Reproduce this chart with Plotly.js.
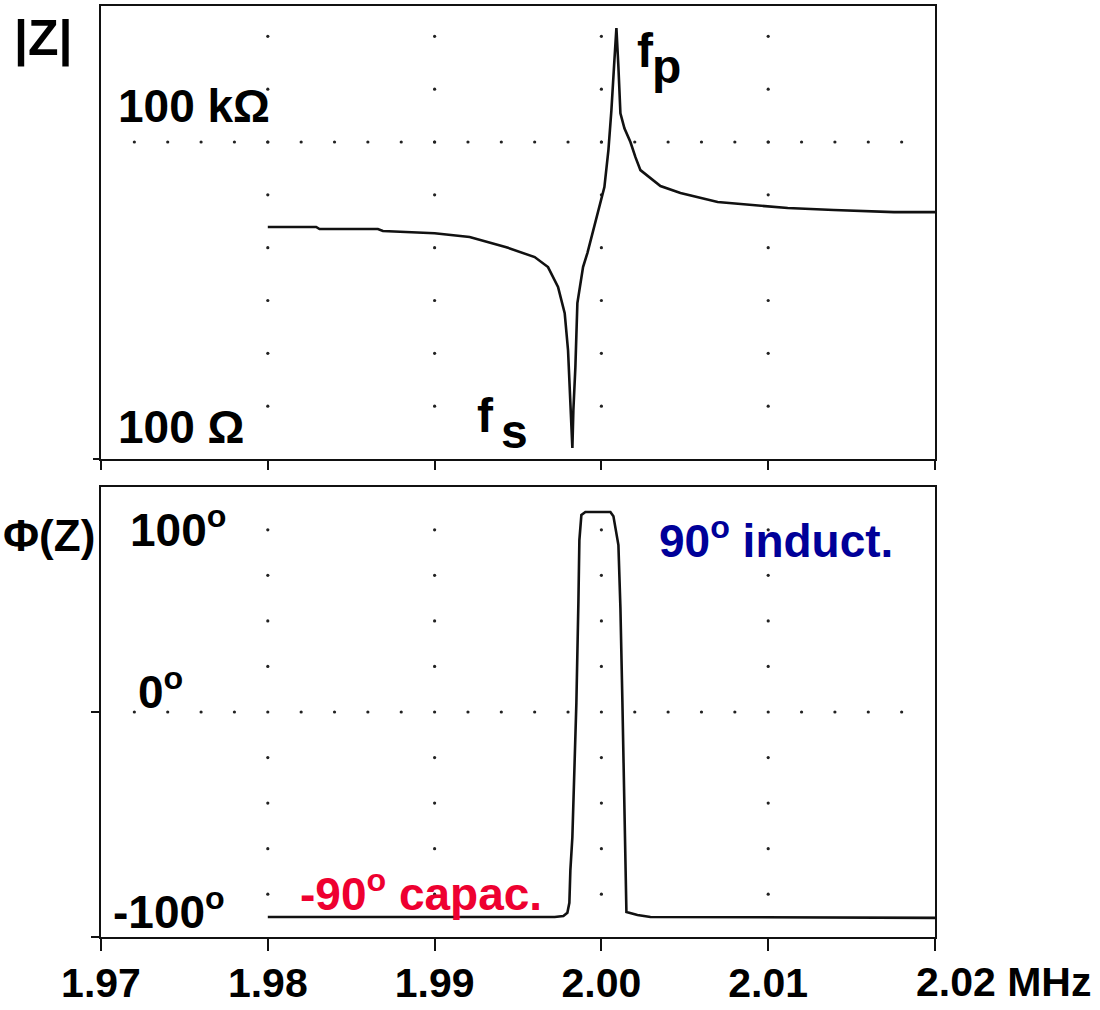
<!DOCTYPE html>
<html>
<head>
<meta charset="utf-8">
<script src="https://cdn.plot.ly/plotly-3.0.1.min.js"></script>
<style>html,body{margin:0;padding:0;background:#fff;}</style>
</head>
<body>
<div id="chart" style="width:1100px;height:1010px;"></div>
<script>
// ---- data ----
const freqZ = [1.9800, 1.9829, 1.9831, 1.9866, 1.9869, 1.9900, 1.9921, 1.9943, 1.9960, 1.9968,
               1.9974, 1.9978, 1.9980, 1.99814, 1.99826, 1.99832, 1.99844, 1.99856, 1.9989, 1.99916,
               1.99976, 2.00018, 2.00042, 2.0006, 2.00078, 2.0009, 2.00102, 2.00114, 2.00138, 2.00174,
               2.00204, 2.00234, 2.00354, 2.00474, 2.00697, 2.00907, 2.01117, 2.01393, 2.01754, 2.0200];
const impedanceOhm = [15700, 15700, 15000, 15000, 14400, 13700, 12600, 10100, 8150, 6550,
                      4240, 2400, 1070, 291, 127, 291, 741, 2990, 6550, 8890,
                      21200, 37400, 83800, 200000, 596000, 1200000, 512000, 187000, 135000, 100000,
                      71900, 54200, 38300, 32900, 27000, 25300, 23700, 22700, 21700, 21700];

const freqPhase = [1.9800, 1.9943, 1.9972, 1.99772, 1.99796, 1.99808, 1.99814, 1.99826, 1.99838, 1.9985,
                   1.99862, 1.99868, 1.9988, 1.99904, 2.00054, 2.00072, 2.00102, 2.00114, 2.00126, 2.00138,
                   2.00144, 2.0015, 2.00216, 2.00294, 2.0200];
const phaseDeg = [-90, -90, -90, -89.6, -88.2, -83.8, -69.4, -54.9, -25.5, 4.0,
                  47.8, 75.5, 86.5, 87.8, 87.8, 86.0, 73.3, 45.7, 4.0, -39.9,
                  -65.0, -87.8, -89.1, -90.0, -90.4];

const xTickVals = [1.97, 1.98, 1.99, 2.00, 2.01, 2.02];
const xTickText = ['1.97', '1.98', '1.99', '2.00', '2.01', ' '];
const xUnitLabel = '2.02 MHz';

// dotted reference grid
const gridFreqs = [1.98, 1.99, 2.00, 2.01];
const gridZOhm = [316, 1000, 3162, 10000, 31623, 100000, 316228, 1000000];
const gridPhaseDeg = [-80, -60, -40, -20, 20, 40, 60, 80];
const rowStart = 1.972, rowStop = 2.018, rowStep = 0.002;
const rowZOhm = 100000, rowPhaseDeg = 0;

// ---- build grid dot traces ----
const rowFreqs = [];
for (let f = rowStart; f <= rowStop + 1e-9; f += rowStep) rowFreqs.push(+f.toFixed(4));

function colDots(levels) {
  const xs = [], ys = [];
  gridFreqs.forEach(f => levels.forEach(v => { xs.push(f); ys.push(v); }));
  return {xs, ys};
}
const topCols = colDots(gridZOhm);
const botCols = colDots(gridPhaseDeg);
const dotMarker = {size: 3.2, color: '#222', symbol: 'circle'};

const traces = [
  {x: topCols.xs.concat(rowFreqs), y: topCols.ys.concat(rowFreqs.map(() => rowZOhm)),
   xaxis: 'x', yaxis: 'y', mode: 'markers', marker: dotMarker, hoverinfo: 'skip'},
  {x: botCols.xs.concat(rowFreqs), y: botCols.ys.concat(rowFreqs.map(() => rowPhaseDeg)),
   xaxis: 'x2', yaxis: 'y2', mode: 'markers', marker: dotMarker, hoverinfo: 'skip'},
  {x: freqZ, y: impedanceOhm, xaxis: 'x', yaxis: 'y', mode: 'lines',
   line: {color: '#111', width: 2.6}},
  {x: freqPhase, y: phaseDeg, xaxis: 'x2', yaxis: 'y2', mode: 'lines',
   line: {color: '#111', width: 2.6}}
];

const F = 'Liberation Sans, Arial, Helvetica, sans-serif';
const lab = (size, color) => ({family: F, size: size, color: color || '#000', weight: 700});

// pixel helpers for paper placement (plot area: x 101..935, y 6..937)
const PL = 101, PW = 834, PB = 937, PH = 931;
const px = v => (v - PL) / PW;
const py = v => (PB - v) / PH;

function note(text, xLeftPx, bottomPx, size, color, anchor) {
  return {text: text, xref: 'paper', yref: 'paper', x: px(xLeftPx), y: py(bottomPx),
          xanchor: anchor || 'left', yanchor: 'bottom', showarrow: false,
          font: lab(size, color), borderpad: 0};
}

const annotations = [
  note('|Z|', 13, 68, 50),
  note('100 kΩ', 117, 133, 46),
  note('100 Ω', 117, 454, 46),
  note('f', 636, 78, 48),
  note('p', 651, 94, 48),
  note('f', 476, 443, 48),
  note('s', 500, 459, 48),
  note('Φ(Z)', 96, 561, 44, '#000', 'right'),
  note('100<sup>o</sup>', 129, 557, 46),
  note('0<sup>o</sup>', 137, 719, 46),
  note('-100<sup>o</sup>', 112, 939, 46),
  note('-90<sup>o</sup> capac.', 299, 921, 46, '#ee0030'),
  note('90<sup>o</sup> induct.', 658, 568, 46, '#000099'),
  {text: xUnitLabel, xref: 'x2', yref: 'paper', x: xTickVals[5], xshift: -20, y: py(1006),
   xanchor: 'left', yanchor: 'bottom', showarrow: false, font: lab(41), borderpad: 0}
];

const axBase = {showline: true, linewidth: 2, linecolor: '#111', mirror: true,
                showgrid: false, zeroline: false, ticks: 'outside', tickwidth: 2,
                tickcolor: '#111', fixedrange: true};

const layout = {
  width: 1100, height: 1010,
  margin: {l: PL, r: 1100 - PL - PW, t: 6, b: 1010 - PB, pad: 0},
  paper_bgcolor: '#fff', plot_bgcolor: '#fff', showlegend: false,
  xaxis: Object.assign({}, axBase, {domain: [0, 1], anchor: 'y', range: [1.97, 2.02],
         tickmode: 'array', tickvals: xTickVals, ticklen: 9, showticklabels: false}),
  yaxis: Object.assign({}, axBase, {domain: [(PB - 459) / PH, 1], anchor: 'x', type: 'log',
         range: [2, 6.287], tickmode: 'array', tickvals: [101], ticklen: 6, showticklabels: false}),
  xaxis2: Object.assign({}, axBase, {domain: [0, 1], anchor: 'y2', range: [1.97, 2.02],
         tickmode: 'array', tickvals: xTickVals, ticktext: xTickText, ticklen: 12,
         tickfont: lab(41), ticklabelstandoff: -3}),
  yaxis2: Object.assign({}, axBase, {domain: [0, (PB - 487) / PH], anchor: 'x2',
         range: [-98.8, 98.8], tickmode: 'array', tickvals: [-98.6, 0], ticklen: 8,
         showticklabels: false}),
  annotations: annotations
};

Plotly.newPlot('chart', traces, layout, {displayModeBar: false, staticPlot: true});
</script>
</body>
</html>
